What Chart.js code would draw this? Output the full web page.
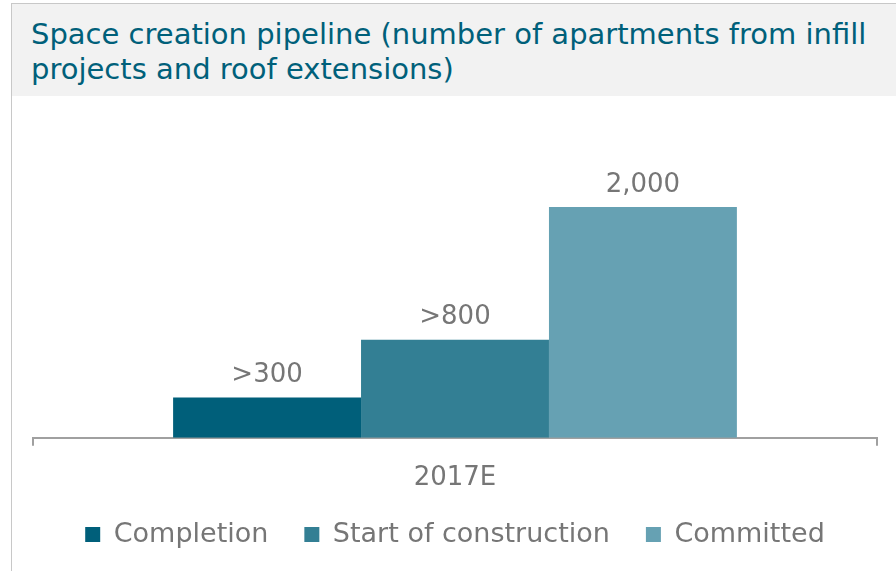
<!DOCTYPE html>
<html>
<head>
<meta charset="utf-8">
<script src="https://cdn.jsdelivr.net/npm/chart.js@4.4.0/dist/chart.umd.min.js"></script>
<style>
  html, body { margin: 0; padding: 0; background: #fff; }
  body { width: 896px; height: 571px; position: relative; overflow: hidden; font-family: "DejaVu Sans", Verdana, sans-serif; }
  #frame { position: absolute; left: 11px; top: 3px; right: 0; bottom: 0; border-left: 1px solid #c8c8c8; border-top: 1px solid #c8c8c8; }
  #title { height: 92px; background: #f2f2f2; color: #00607a; font-size: 29px; line-height: 35px; padding: 13px 0 0 19px; box-sizing: border-box; white-space: nowrap; }
  #wrap { position: absolute; left: 0; top: 92px; width: 884px; height: 475px; }
</style>
</head>
<body>
<div id="frame">
  <div id="title">Space creation pipeline (number of apartments from infill<br>projects and roof extensions)</div>
  <div id="wrap"><canvas id="chart"></canvas></div>
</div>
<script>
document.addEventListener('DOMContentLoaded', function() {
  // values, labels as printed
  const categories = ['2017E'];
  const seriesNames = ['Completion', 'Start of construction', 'Committed'];
  const seriesValues = [350, 850, 2000];
  const valueLabels = ['>300', '>800', '2,000'];
  const colors = ['#005f7a', '#337f94', '#66a1b3'];
  const grey = '#767676';
  const font = '"DejaVu Sans", Verdana, sans-serif';

  const barLabels = {
    id: 'barLabels',
    afterDatasetsDraw(chart) {
      const c = chart.ctx;
      c.save();
      c.font = '26px ' + font;
      c.fillStyle = grey;
      c.textAlign = 'center';
      c.textBaseline = 'bottom';
      chart.data.datasets.forEach(function(ds, i) {
        const bar = chart.getDatasetMeta(i).data[0];
        c.fillText(valueLabels[i], bar.x, bar.y - 9);
      });
      c.restore();
    }
  };

  const ctx = document.getElementById('chart').getContext('2d');
  new Chart(ctx, {
    type: 'bar',
    data: {
      labels: categories,
      datasets: seriesNames.map(function(name, i) {
        return {
          label: name,
          data: [seriesValues[i]],
          backgroundColor: colors[i],
          categoryPercentage: 0.668,
          barPercentage: 1
        };
      })
    },
    options: {
      responsive: true,
      maintainAspectRatio: false,
      animation: false,
      layout: { padding: { left: 21, right: 19, top: 14, bottom: 13 } },
      plugins: {
        tooltip: { enabled: false },
        legend: {
          position: 'bottom',
          labels: {
            color: grey,
            font: { family: font, size: 27 },
            boxWidth: 15,
            boxHeight: 15,
            padding: 36
          }
        }
      },
      scales: {
        x: {
          // label sits close to the legend, so let them share some room
          afterFit: function(scale) { scale.height -= 26; },
          grid: { display: true, drawOnChartArea: false, drawTicks: true, tickLength: 8, color: '#a0a0a0', lineWidth: 2 },
          border: { display: true, color: '#a0a0a0', width: 2 },
          ticks: { color: grey, font: { family: font, size: 26 }, padding: 17 }
        },
        y: {
          display: false,
          min: 0,
          max: 2840
        }
      }
    },
    plugins: [barLabels]
  });
});
</script>
</body>
</html>
